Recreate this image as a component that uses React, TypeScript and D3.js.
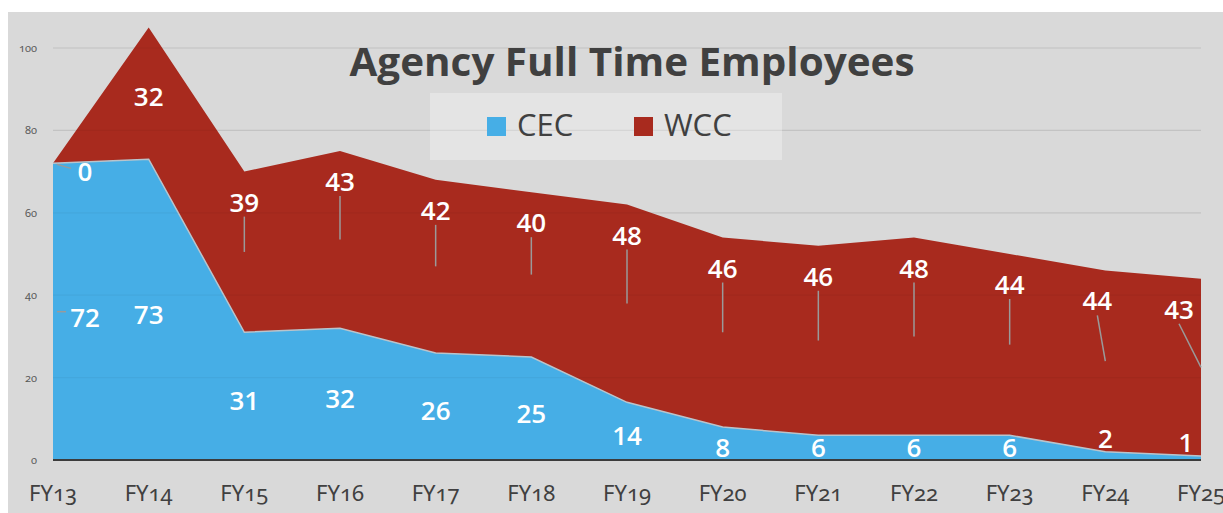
import * as d3 from "d3";
import { useEffect, useRef } from "react";

// fiscal years on the x axis
const years = ["FY13", "FY14", "FY15", "FY16", "FY17", "FY18", "FY19", "FY20", "FY21", "FY22", "FY23", "FY24", "FY25"];
// headcounts per agency
const cec = [72, 73, 31, 32, 26, 25, 14, 8, 6, 6, 6, 2, 1];
const wcc = [0, 32, 39, 43, 42, 40, 48, 46, 46, 48, 44, 44, 43];
const yTicks = [0, 20, 40, 60, 80, 100];
const seriesNames = ["CEC", "WCC"];

const BLUE = "#46aee6";
const RED = "#a82a1e";

function App() {
  const ref = useRef(null);

  useEffect(() => {
    document.body.style.margin = "0";
    const svg = d3.select(ref.current);
    svg.selectAll("*").remove();

    const width = 1223;
    const height = 513;

    // gray slide background
    svg.append("rect").attr("x", 8).attr("y", 12).attr("width", width - 8).attr("height", height - 12).attr("fill", "#d9d9d9");

    const xScale = d3.scalePoint().domain(years).range([53, 1201]).padding(0);
    const yScale = d3.scaleLinear().domain([0, 100]).range([460, 48]);

    const rows = years.map((y, i) => ({ year: y, CEC: cec[i], WCC: wcc[i] }));
    const stacked = d3.stack().keys(seriesNames)(rows);

    // grid lines
    svg
      .append("g")
      .selectAll("line")
      .data(yTicks.filter((t) => t > 0))
      .join("line")
      .attr("x1", 53)
      .attr("x2", 1201)
      .attr("y1", (d) => yScale(d))
      .attr("y2", (d) => yScale(d))
      .attr("stroke", "#cbcbcb")
      .attr("stroke-width", 1.2);

    // y tick labels
    svg
      .append("g")
      .selectAll("text")
      .data(yTicks)
      .join("text")
      .attr("x", 37)
      .attr("y", (d) => yScale(d) + 4)
      .attr("text-anchor", "end")
      .attr("font-family", "Noto Sans")
      .attr("font-size", 11)
      .style("font-variant-numeric", "oldstyle-nums")
      .attr("fill", "#595959")
      .text((d) => d);

    // stacked areas
    const area = d3
      .area()
      .x((d) => xScale(d.data.year))
      .y0((d) => yScale(d[0]))
      .y1((d) => yScale(d[1]));

    svg
      .append("g")
      .selectAll("path")
      .data(stacked)
      .join("path")
      .attr("fill", (d, i) => (i === 0 ? BLUE : RED))
      .attr("d", area);

    // thin light edge on top of CEC
    const edge = d3
      .line()
      .x((d) => xScale(d.data.year))
      .y((d) => yScale(d[1]));
    svg.append("path").datum(stacked[0]).attr("fill", "none").attr("stroke", "#b9c4cc").attr("stroke-width", 1.5).attr("d", edge);

    // faint grid over the areas
    svg
      .append("g")
      .selectAll("line")
      .data(yTicks.filter((t) => t > 0))
      .join("line")
      .attr("x1", 53)
      .attr("x2", 1201)
      .attr("y1", (d) => yScale(d))
      .attr("y2", (d) => yScale(d))
      .attr("stroke", "rgba(0,0,0,0.04)")
      .attr("stroke-width", 1.2);

    // baseline
    svg.append("line").attr("x1", 53).attr("x2", 1201).attr("y1", yScale(0)).attr("y2", yScale(0)).attr("stroke", "#3c3c3c").attr("stroke-width", 2.2);

    // x labels
    svg
      .append("g")
      .selectAll("text")
      .data(years)
      .join("text")
      .attr("x", (d) => xScale(d))
      .attr("y", 501)
      .attr("text-anchor", "middle")
      .attr("font-family", "Noto Sans")
      .attr("font-size", 22)
      .style("font-variant-numeric", "oldstyle-nums")
      .attr("fill", "#404040")
      .text((d) => d);

    // data labels
    const labels = svg.append("g").attr("font-family", "Open Sans").attr("font-weight", 600).attr("font-size", 26).attr("fill", "#fff").attr("text-anchor", "middle");
    const leaders = svg.append("g").attr("stroke", "#9a9a9a").attr("stroke-width", 1.5);
    const n = years.length;
    const maxTotal = d3.max(stacked[1], (d) => d[1]);

    stacked[0].forEach((d, i) => {
      const x = xScale(d.data.year);
      const top = yScale(d[1]);
      const mid = yScale((d[0] + d[1]) / 2);
      let lx = x;
      let ly = Math.min(mid + 5, 448);
      if (i === 0) {
        lx = x + 32;
        ly = mid + 6;
        leaders.append("line").attr("x1", x + 4).attr("x2", x + 13).attr("y1", mid).attr("y2", mid);
      }
      if (cec[i] <= 2) ly = top - 13;
      if (i === n - 1) lx = x - 15;
      labels.append("text").attr("x", lx).attr("y", ly + 9).text(cec[i]);
    });

    stacked[1].forEach((d, i) => {
      const x = xScale(d.data.year);
      const top = yScale(d[1]);
      const mid = yScale((d[0] + d[1]) / 2);
      if (wcc[i] === 0) {
        leaders.append("line").attr("x1", x + 4).attr("x2", x + 18).attr("y1", top + 1).attr("y2", top + 5);
        labels.append("text").attr("x", x + 32).attr("y", top + 18).text(wcc[i]);
        return;
      }
      if (d[1] === maxTotal) {
        labels.append("text").attr("x", x).attr("y", mid + 13).text(wcc[i]);
        return;
      }
      const dx = i === n - 1 ? -22 : i === n - 2 ? -8 : 0;
      const ly = top + 31;
      leaders.append("line").attr("x1", x + dx).attr("x2", x).attr("y1", ly + 14).attr("y2", mid);
      labels.append("text").attr("x", x + dx).attr("y", ly + 9).text(wcc[i]);
    });
    leaders.raise();

    // legend
    svg.append("rect").attr("x", 430).attr("y", 93).attr("width", 352).attr("height", 67).attr("fill", "rgba(255,255,255,0.3)");
    const legendX = [487, 634];
    seriesNames.forEach((s, i) => {
      svg.append("rect").attr("x", legendX[i]).attr("y", 117).attr("width", 19).attr("height", 19).attr("fill", i === 0 ? BLUE : RED);
      svg
        .append("text")
        .attr("x", legendX[i] + 30)
        .attr("y", 136)
        .attr("font-family", "Open Sans")
        .attr("font-size", 31)
        .attr("fill", "#404040")
        .text(s);
    });

    // title
    svg
      .append("text")
      .attr("x", 632)
      .attr("y", 76)
      .attr("text-anchor", "middle")
      .attr("font-family", "Open Sans")
      .attr("font-weight", 700)
      .attr("font-size", 40)
      .attr("textLength", 565)
      .attr("lengthAdjust", "spacingAndGlyphs")
      .attr("fill", "#404040")
      .text("Agency Full Time Employees");
  }, []);

  return <svg ref={ref} width={1223} height={513} style={{ display: "block" }} />;
}

export default App;
